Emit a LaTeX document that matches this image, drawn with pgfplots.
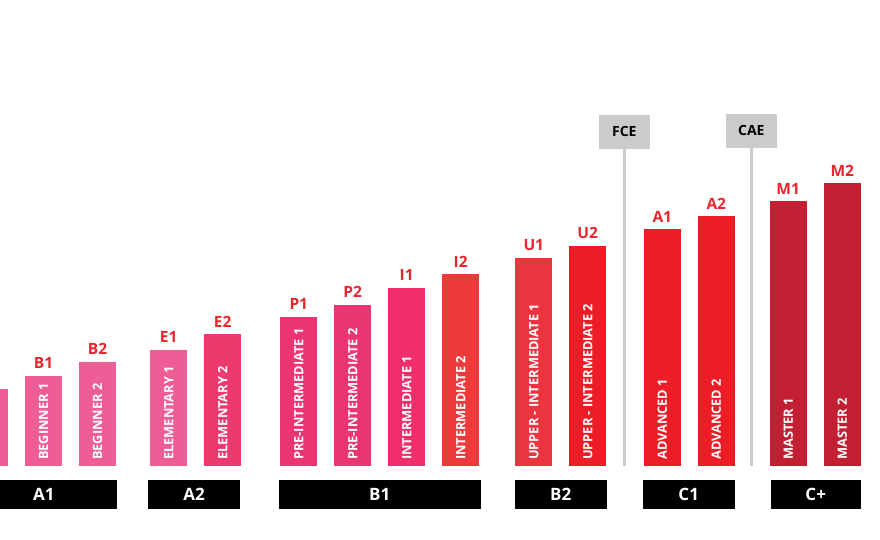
\documentclass[border=0pt]{standalone}
\usepackage{pgfplots}
\pgfplotsset{compat=1.18}
\usepackage{fontspec}
\setmainfont{Open Sans}

\definecolor{lvPink}{HTML}{EE5D95}
\definecolor{lvRose}{HTML}{EC3A6E}
\definecolor{lvMagenta}{HTML}{EA3570}
\definecolor{lvCrimson}{HTML}{EF2E6B}
\definecolor{lvCoral}{HTML}{EC3A3D}
\definecolor{lvRedA}{HTML}{EC3440}
\definecolor{lvRed}{HTML}{ED1D27}
\definecolor{lvDark}{HTML}{C21F32}
\definecolor{lvLabel}{HTML}{E8252D}
\definecolor{lvGrey}{HTML}{CBCBCB}

\tikzset{
  bartext/.style={rotate=90, anchor=west, inner sep=0pt, text=white,
    font=\bfseries\fontsize{12.8}{12.8}\selectfont},
  groupbox/.style={fill=black},
  grouptext/.style={text=white, font=\bfseries\fontsize{17}{17}\selectfont},
  examtext/.style={text=black, font=\bfseries\fontsize{14}{14}\selectfont},
}

% one course level: position, height, colour, short code, full name
\newcommand{\levelbar}[5]{%
  \addplot[ybar, bar width=37pt, draw=none, fill=#3,
    nodes near coords={#4},
    every node near coord/.append style={anchor=south, inner sep=0pt, yshift=7pt,
      text=lvLabel, font=\bfseries\fontsize{15.5}{15.5}\selectfont}]
    coordinates {(#1,#2)};
  \node[bartext] at (axis cs:#1,6.5) {#5};
}

\begin{document}
\begin{tikzpicture}
\useasboundingbox (0,0) rectangle (880pt,540pt);
\clip (0,0) rectangle (880pt,540pt);
\begin{axis}[
  at={(0,0)}, anchor=south west,
  scale only axis, width=880pt, height=540pt,
  xmin=0, xmax=880, ymin=-73.5, ymax=466.5,
  hide axis, clip=false,
]
% exam markers
\draw[lvGrey, line width=3.5pt] (axis cs:624.7,0.5) -- (axis cs:624.7,317.5);
\fill[lvGrey] (axis cs:599,317.5) rectangle (axis cs:649.7,351.5);
\node[examtext] at (axis cs:624.35,334.5) {FCE};
\draw[lvGrey, line width=3.5pt] (axis cs:751.7,0.5) -- (axis cs:751.7,318.8);
\fill[lvGrey] (axis cs:726,318.8) rectangle (axis cs:776.7,352.5);
\node[examtext] at (axis cs:751.35,335.6) {CAE};

% levels
\addplot[ybar, bar width=37pt, draw=none, fill=lvPink] coordinates {(-10.5,77.5)};
\levelbar{43.5}{90.5}{lvPink}{B1}{BEGINNER 1}
\levelbar{97.5}{104.8}{lvPink}{B2}{BEGINNER 2}
\levelbar{168.7}{116.5}{lvPink}{E1}{ELEMENTARY 1}
\levelbar{222.7}{132.2}{lvRose}{E2}{ELEMENTARY 2}
\levelbar{298.8}{149.5}{lvMagenta}{P1}{PRE-INTERMEDIATE 1}
\levelbar{352.7}{161.8}{lvMagenta}{P2}{PRE-INTERMEDIATE 2}
\levelbar{406.7}{178.8}{lvCrimson}{I1}{INTERMEDIATE 1}
\levelbar{460.7}{192.2}{lvCoral}{I2}{INTERMEDIATE 2}
\levelbar{533.8}{208.2}{lvRedA}{U1}{UPPER - INTERMEDIATE 1}
\levelbar{587.7}{220.8}{lvRed}{U2}{UPPER - INTERMEDIATE 2}
\levelbar{662.3}{237.2}{lvRed}{A1}{ADVANCED 1}
\levelbar{716.3}{250.2}{lvRed}{A2}{ADVANCED 2}
\levelbar{788.2}{265.2}{lvDark}{M1}{MASTER 1}
\levelbar{842.3}{283.2}{lvDark}{M2}{MASTER 2}

% CEFR groups
\fill[groupbox] (axis cs:-29,-13.8) rectangle (axis cs:116.7,-42.5);
\node[grouptext] at (axis cs:43.8,-28.2) {A1};
\fill[groupbox] (axis cs:148,-13.8) rectangle (axis cs:240,-42.5);
\node[grouptext] at (axis cs:194,-28.2) {A2};
\fill[groupbox] (axis cs:279,-13.8) rectangle (axis cs:480.7,-42.5);
\node[grouptext] at (axis cs:379.8,-28.2) {B1};
\fill[groupbox] (axis cs:514.7,-13.8) rectangle (axis cs:606.7,-42.5);
\node[grouptext] at (axis cs:560.7,-28.2) {B2};
\fill[groupbox] (axis cs:642.7,-13.8) rectangle (axis cs:734.7,-42.5);
\node[grouptext] at (axis cs:688.7,-28.2) {C1};
\fill[groupbox] (axis cs:770.7,-13.8) rectangle (axis cs:860.7,-42.5);
\node[grouptext] at (axis cs:815.7,-28.2) {C+};
\end{axis}
\end{tikzpicture}
\end{document}
